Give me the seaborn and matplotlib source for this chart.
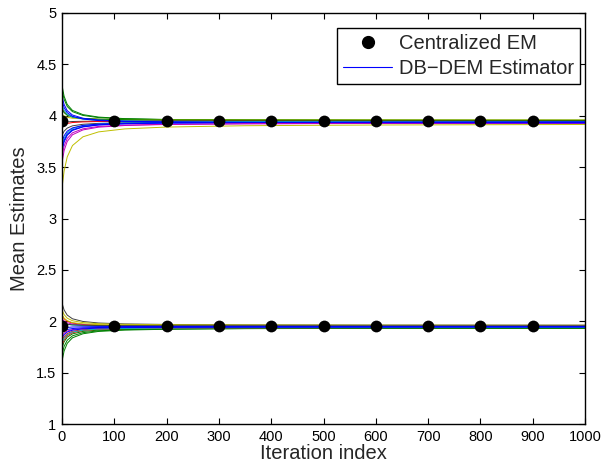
import numpy as np
import pandas as pd
import matplotlib
matplotlib.use('Agg')
import matplotlib.pyplot as plt
from matplotlib.lines import Line2D
import seaborn as sns

# ---- data ----
ITERS = [0, 1, 4, 10, 20, 40, 70, 120, 200, 350, 600, 1000]

# upper mean cluster (~3.95)
UPPER_COLORS = ['g', 'g', 'r', 'y', 'k', 'k', 'c', 'm', 'm', 'y', 'r', 'g', 'c',
                'b', 'b', 'b', 'b']
UPPER_RUNS = [
    [4.30, 4.27, 4.19, 4.11, 4.052, 4.011, 3.987, 3.972, 3.964, 3.958, 3.955, 3.953],
    [4.25, 4.23, 4.16, 4.09, 4.040, 4.003, 3.982, 3.970, 3.962, 3.957, 3.954, 3.953],
    [3.98, 4.07, 4.04, 4.01, 3.988, 3.973, 3.964, 3.958, 3.955, 3.953, 3.952, 3.951],
    [3.96, 4.01, 3.998, 3.985, 3.976, 3.970, 3.966, 3.964, 3.962, 3.961, 3.961, 3.960],
    [3.95, 3.93, 3.935, 3.94, 3.944, 3.946, 3.948, 3.949, 3.949, 3.950, 3.950, 3.950],
    [3.90, 3.82, 3.85, 3.88, 3.902, 3.917, 3.926, 3.932, 3.935, 3.937, 3.938, 3.939],
    [3.80, 3.725, 3.78, 3.835, 3.875, 3.903, 3.920, 3.930, 3.936, 3.940, 3.942, 3.943],
    [3.70, 3.63, 3.705, 3.78, 3.834, 3.873, 3.896, 3.909, 3.917, 3.923, 3.926, 3.927],
    [3.62, 3.57, 3.66, 3.75, 3.815, 3.862, 3.889, 3.905, 3.915, 3.921, 3.925, 3.927],
    [2.90, 3.34, 3.46, 3.60, 3.710, 3.795, 3.843, 3.872, 3.890, 3.903, 3.910, 3.915],
    [2.50, 3.90, 3.912, 3.925, 3.934, 3.940, 3.944, 3.946, 3.948, 3.949, 3.949, 3.950],
    [4.05, 4.055, 4.03, 4.005, 3.987, 3.974, 3.967, 3.962, 3.959, 3.958, 3.957, 3.956],
    [4.10, 4.09, 4.053, 4.015, 3.988, 3.969, 3.957, 3.951, 3.946, 3.944, 3.942, 3.941],
    [3.85, 3.76, 3.805, 3.85, 3.882, 3.906, 3.919, 3.927, 3.932, 3.936, 3.937, 3.938],
    [3.75, 3.68, 3.745, 3.81, 3.857, 3.891, 3.910, 3.922, 3.929, 3.934, 3.936, 3.938],
    [3.72, 3.70, 3.76, 3.82, 3.863, 3.894, 3.912, 3.923, 3.930, 3.934, 3.936, 3.938],
    [4.15, 4.13, 4.08, 4.03, 3.994, 3.968, 3.953, 3.944, 3.939, 3.935, 3.933, 3.932],
]
UPPER_TOP = [5.00, 4.17, 4.11, 4.05, 4.007, 3.976, 3.958, 3.947, 3.940, 3.936, 3.934, 3.932]

# lower mean cluster (~1.95)
LOWER_COLORS = ['k', 'r', 'y', 'y', 'm', 'c', 'r', 'g', 'g', 'g', 'r', 'm', 'c',
                'k', 'b', 'b', 'b']
LOWER_RUNS = [
    [3.90, 2.16, 2.11, 2.06, 2.024, 1.998, 1.983, 1.974, 1.969, 1.965, 1.963, 1.962],
    [2.22, 2.05, 2.025, 2.00, 1.982, 1.969, 1.962, 1.957, 1.954, 1.953, 1.952, 1.951],
    [2.12, 2.10, 2.065, 2.03, 2.005, 1.987, 1.976, 1.970, 1.966, 1.964, 1.962, 1.961],
    [2.06, 2.055, 2.03, 2.005, 1.987, 1.974, 1.967, 1.962, 1.959, 1.958, 1.957, 1.956],
    [2.03, 2.02, 2.003, 1.985, 1.972, 1.963, 1.958, 1.955, 1.953, 1.952, 1.951, 1.951],
    [2.00, 1.99, 1.98, 1.97, 1.963, 1.958, 1.955, 1.953, 1.952, 1.951, 1.951, 1.950],
    [1.83, 1.82, 1.85, 1.88, 1.902, 1.917, 1.926, 1.932, 1.935, 1.937, 1.938, 1.939],
    [1.76, 1.755, 1.80, 1.845, 1.877, 1.901, 1.914, 1.922, 1.927, 1.931, 1.932, 1.933],
    [1.70, 1.695, 1.755, 1.815, 1.858, 1.889, 1.907, 1.918, 1.925, 1.929, 1.931, 1.933],
    [1.50, 1.635, 1.71, 1.785, 1.839, 1.878, 1.901, 1.914, 1.922, 1.928, 1.931, 1.932],
    [1.78, 1.78, 1.82, 1.86, 1.889, 1.910, 1.922, 1.929, 1.933, 1.936, 1.938, 1.939],
    [1.87, 1.865, 1.885, 1.905, 1.919, 1.930, 1.936, 1.939, 1.942, 1.943, 1.944, 1.944],
    [1.80, 1.80, 1.835, 1.87, 1.895, 1.913, 1.924, 1.930, 1.934, 1.937, 1.938, 1.939],
    [1.99, 1.985, 1.978, 1.97, 1.965, 1.961, 1.958, 1.957, 1.956, 1.956, 1.955, 1.955],
    [1.90, 1.895, 1.908, 1.92, 1.929, 1.936, 1.939, 1.942, 1.943, 1.944, 1.944, 1.945],
    [1.93, 1.93, 1.935, 1.94, 1.944, 1.946, 1.948, 1.949, 1.949, 1.950, 1.950, 1.950],
]
LOWER_BOTTOM = [1.00, 1.845, 1.87, 1.895, 1.913, 1.926, 1.934, 1.938, 1.941, 1.943, 1.944, 1.944]

# centralized EM reference points
EM_ITERS = [0, 100, 200, 300, 400, 500, 600, 700, 800, 900]
EM_UPPER = [3.95] * len(EM_ITERS)
EM_LOWER = [1.95] * len(EM_ITERS)

# MATLAB (old) default line colours
MATLAB = {'b': (0, 0, 1), 'g': (0, 0.5, 0), 'r': (1, 0, 0), 'c': (0, 0.75, 0.75),
          'm': (0.75, 0, 0.75), 'y': (0.75, 0.75, 0), 'k': (0.25, 0.25, 0.25)}

# ---- long table for seaborn ----
rows = []
palette = {}
runs = list(zip(UPPER_COLORS, UPPER_RUNS)) + [('b', UPPER_TOP)] + \
       list(zip(LOWER_COLORS[:-1], LOWER_RUNS)) + [('b', LOWER_BOTTOM)]
# blue runs drawn last so they sit on top, like the original
runs = [r for r in runs if r[0] != 'b'] + [r for r in runs if r[0] == 'b']
for i, (c, vals) in enumerate(runs):
    name = f'run{i}'
    palette[name] = MATLAB[c]
    for it, v in zip(ITERS, vals):
        rows.append({'iter': it, 'value': v, 'run': name})
df = pd.DataFrame(rows)

sns.set_style('ticks')
plt.rcParams['font.family'] = ['Liberation Sans', 'DejaVu Sans']

fig = plt.figure(figsize=(6.01, 4.67), dpi=100)
ax = fig.add_axes([62 / 601, 1 - 424 / 467, (585 - 62) / 601, (424 - 13) / 467])

sns.lineplot(data=df, x='iter', y='value', hue='run', palette=palette,
             hue_order=list(palette.keys()), estimator=None, sort=False,
             legend=False, linewidth=0.7, ax=ax)

for em in (EM_UPPER, EM_LOWER):
    sns.scatterplot(x=EM_ITERS, y=em, color='black', s=72, edgecolor='black',
                    linewidth=0, zorder=5, ax=ax, legend=False)

ax.set_xlim(0, 1000)
ax.set_ylim(1, 5)
ax.set_xticks(np.arange(0, 1001, 100))
ax.set_yticks(np.arange(1, 5.01, 0.5))
ax.set_yticklabels(['1', '1.5', '2', '2.5', '3', '3.5', '4', '4.5', '5'])
ax.tick_params(direction='in', top=True, right=True, length=4, width=0.8,
               labelsize=10.5, colors='black', pad=4)
for s in ax.spines.values():
    s.set_linewidth(1.0)
    s.set_color('black')
ax.set_xlabel('Iteration index', fontsize=14.5, labelpad=0)
ax.set_ylabel('Mean Estimates', fontsize=14.5, labelpad=5)

handles = [Line2D([], [], marker='o', ls='none', color='black', markersize=8.5),
           Line2D([], [], color='blue', linewidth=0.8)]
leg = ax.legend(handles, ['Centralized EM', 'DB\u2212DEM Estimator'],
                loc='upper right', bbox_to_anchor=(580 / 601, 1 - 28 / 467),
                bbox_transform=fig.transFigure, borderaxespad=0, fontsize=14.5,
                frameon=True, fancybox=False, framealpha=1, edgecolor='black',
                handlelength=2.4, handletextpad=0.35, borderpad=0.3,
                labelspacing=0.3)
leg.get_frame().set_linewidth(1.0)

fig.savefig('out.png', dpi=100)
